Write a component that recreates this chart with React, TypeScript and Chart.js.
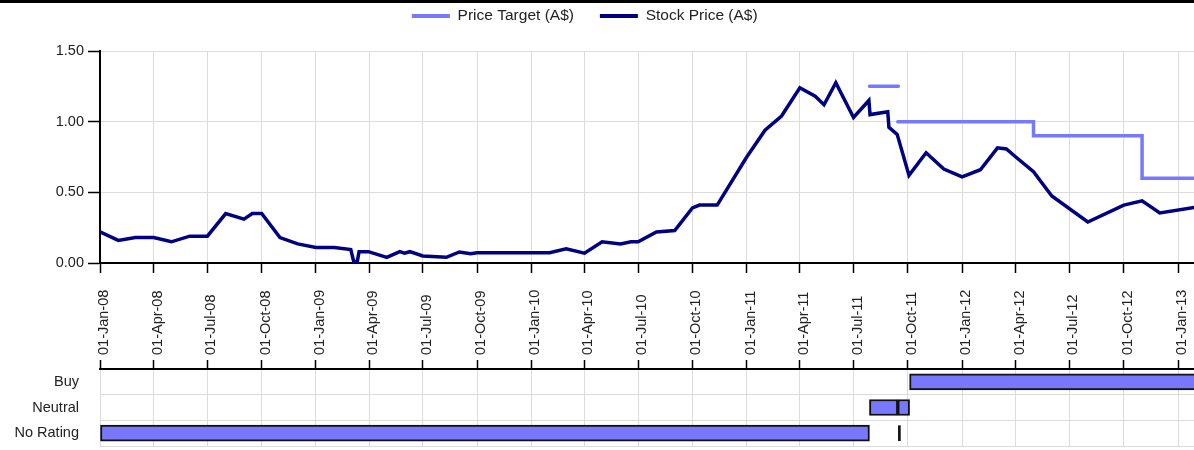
import React, { useEffect, useRef } from 'react';
import { Chart, registerables } from 'chart.js';

Chart.register(...registerables);

// ---------- data ----------
const axisStart = '2008-01-01';
const axisEnd = '2013-01-28';

const priceDates = [
  '2008-01-01', '2008-02-01', '2008-03-01', '2008-04-01', '2008-05-01', '2008-06-01', '2008-07-01',
  '2008-08-01', '2008-09-01', '2008-09-15', '2008-10-01', '2008-11-01', '2008-12-01',
  '2009-01-01', '2009-02-01', '2009-03-01', '2009-03-06', '2009-03-12', '2009-03-15', '2009-03-31',
  '2009-05-01', '2009-05-23', '2009-05-31', '2009-06-09', '2009-07-01', '2009-07-25', '2009-08-10',
  '2009-09-01', '2009-09-20', '2009-10-01', '2010-02-01', '2010-03-01', '2010-04-01', '2010-05-01',
  '2010-06-01', '2010-06-19', '2010-07-01', '2010-08-01', '2010-09-01', '2010-10-01', '2010-10-13',
  '2010-11-12', '2011-01-01', '2011-02-01', '2011-03-01', '2011-04-01', '2011-04-27', '2011-05-12',
  '2011-06-01', '2011-07-01', '2011-07-27', '2011-07-29', '2011-08-28', '2011-08-30', '2011-09-13',
  '2011-10-03', '2011-11-01', '2011-12-01', '2012-01-01', '2012-02-01', '2012-03-01', '2012-03-16',
  '2012-04-01', '2012-05-01', '2012-06-01', '2012-08-01', '2012-10-01', '2012-11-01', '2012-12-01',
  '2013-02-01',
];
const priceValues = [
  0.22, 0.16, 0.18, 0.18, 0.15, 0.19, 0.19,
  0.35, 0.31, 0.35, 0.35, 0.18, 0.135,
  0.11, 0.11, 0.095, 0.01, 0.01, 0.08, 0.08,
  0.04, 0.08, 0.07, 0.08, 0.05, 0.045, 0.04,
  0.078, 0.065, 0.073, 0.073, 0.1, 0.07, 0.15,
  0.135, 0.15, 0.15, 0.22, 0.23, 0.39, 0.41,
  0.41, 0.75, 0.94, 1.04, 1.24, 1.18, 1.12,
  1.276, 1.03, 1.15, 1.05, 1.07, 0.96, 0.91,
  0.62, 0.78, 0.665, 0.61, 0.66, 0.815, 0.807,
  0.75, 0.646, 0.474, 0.29, 0.41, 0.44, 0.354,
  0.395,
];

const targetDates = ['2011-07-28', '2011-09-15', '2011-09-15', '2011-09-14', '2012-05-01', '2012-11-01', '2013-02-01'];
const targetValues = [1.25, 1.25, null, 1.0, 0.9, 0.6, 0.6];

const tickDates = [
  '2008-01-01', '2008-04-01', '2008-07-01', '2008-10-01',
  '2009-01-01', '2009-04-01', '2009-07-01', '2009-10-01',
  '2010-01-01', '2010-04-01', '2010-07-01', '2010-10-01',
  '2011-01-01', '2011-04-01', '2011-07-01', '2011-10-01',
  '2012-01-01', '2012-04-01', '2012-07-01', '2012-10-01',
  '2013-01-01',
];
const tickLabels = [
  '01-Jan-08', '01-Apr-08', '01-Jul-08', '01-Oct-08',
  '01-Jan-09', '01-Apr-09', '01-Jul-09', '01-Oct-09',
  '01-Jan-10', '01-Apr-10', '01-Jul-10', '01-Oct-10',
  '01-Jan-11', '01-Apr-11', '01-Jul-11', '01-Oct-11',
  '01-Jan-12', '01-Apr-12', '01-Jul-12', '01-Oct-12',
  '01-Jan-13',
];
const yTicks = [0, 0.5, 1.0, 1.5];

const ratingCategories = ['Buy', 'Neutral', 'No Rating'];
const ratingNames = ['No Rating', 'Neutral', 'Neutral', 'Buy'];
const ratingStarts = ['2008-01-01', '2011-07-28', '2011-09-14', '2011-10-04'];
const ratingEnds = ['2011-07-28', '2011-09-14', '2011-10-04', '2013-02-01'];
const markerNames = ['No Rating'];
const markerDates = ['2011-09-15'];

// ---------- helpers ----------
const DAY = 86400000;
const day = (s: string) => (Date.parse(s) - Date.parse(axisStart)) / DAY;
const tickDays = tickDates.map(day);
const labelFor = (v: number) => {
  const i = tickDays.findIndex((t) => Math.abs(t - v) < 0.01);
  return i >= 0 ? tickLabels[i] : '';
};

const FONT = "'Liberation Sans', Arial, sans-serif";
const TEXT = '#222222';
const GRID = '#dcdcdc';
const TARGET = '#7878ff';
const STOCK = '#000080';
const TICK_FONT = 14.5;
const LEGEND_FONT = 15.5;

export default function App() {
  const mainRef = useRef<HTMLCanvasElement>(null);
  const ratingRef = useRef<HTMLCanvasElement>(null);

  useEffect(() => {
    const setTicks = (s: any) => {
      s.ticks = tickDays.map((v) => ({ value: v }));
    };

    const main = new Chart(mainRef.current as HTMLCanvasElement, {
      type: 'line',
      data: {
        datasets: [
          {
            label: 'Price Target (A$)',
            data: targetDates.map((d, i) => ({ x: day(d), y: targetValues[i] })) as any,
            borderColor: TARGET,
            backgroundColor: TARGET,
            borderWidth: 3.5,
            pointRadius: 0,
            stepped: 'before',
            spanGaps: false,
            borderCapStyle: 'round',
            fill: false,
          },
          {
            label: 'Stock Price (A$)',
            data: priceDates.map((d, i) => ({ x: day(d), y: priceValues[i] })),
            borderColor: STOCK,
            backgroundColor: STOCK,
            borderWidth: 3.5,
            pointRadius: 0,
            tension: 0,
            fill: false,
          },
        ],
      },
      options: {
        responsive: false,
        animation: false,
        layout: { padding: { top: -20.75, left: -24.5, right: 0, bottom: 0 } },
        plugins: {
          legend: {
            display: true,
            position: 'top',
            align: 'center',
            labels: {
              boxWidth: 38,
              boxHeight: 4,
              padding: 26,
              color: TEXT,
              font: { family: FONT, size: LEGEND_FONT },
              generateLabels: (chart: any) =>
                chart.data.datasets.map((ds: any, i: number) => ({
                  text: ds.label,
                  fillStyle: ds.borderColor,
                  strokeStyle: ds.borderColor,
                  lineWidth: 0,
                  hidden: false,
                  datasetIndex: i,
                  fontColor: TEXT,
                })),
            },
          },
          // empty spacer box between legend and plot
          title: {
            display: true,
            text: '',
            weight: 500,
            font: { size: 10, lineHeight: 1.2 },
            padding: { top: 0, bottom: 5.25 },
          },
          tooltip: { enabled: false },
        },
        scales: {
          x: {
            type: 'linear',
            position: 'bottom',
            min: day(axisStart),
            max: day(axisEnd),
            afterBuildTicks: setTicks,
            ticks: { display: false, autoSkip: false },
            grid: { color: GRID, tickColor: '#000', tickLength: 10, tickWidth: 1.5 },
            border: { color: '#000', width: 2 },
            afterFit: (s: any) => {
              s.height = 17;
              s.paddingLeft = 0;
              s.paddingRight = 0;
            },
          },
          y: {
            type: 'linear',
            min: 0,
            max: 1.5,
            afterBuildTicks: (s: any) => {
              s.ticks = yTicks.map((v) => ({ value: v }));
            },
            ticks: {
              callback: (v: any) => Number(v).toFixed(2),
              color: TEXT,
              font: { family: FONT, size: TICK_FONT },
              padding: 4,
            },
            grid: { color: GRID, tickColor: '#000', tickLength: 12, tickWidth: 1.5 },
            border: { color: '#000', width: 2 },
            afterFit: (s: any) => {
              s.width = 124.5;
            },
          },
        },
      } as any,
    });

    const rating = new Chart(ratingRef.current as HTMLCanvasElement, {
      type: 'bar',
      data: {
        labels: ratingCategories,
        datasets: [
          {
            label: 'Rating',
            data: ratingNames.map((n, i) => ({ y: n, x: [day(ratingStarts[i]), day(ratingEnds[i])] })) as any,
            backgroundColor: TARGET,
            borderColor: '#111',
            borderWidth: 2,
            borderSkipped: false,
            barThickness: 16,
            grouped: false,
          } as any,
          {
            label: 'Rating change',
            data: markerNames.map((n, i) => ({ y: n, x: [day(markerDates[i]), day(markerDates[i])] })) as any,
            backgroundColor: '#111',
            borderWidth: 0,
            barThickness: 15,
            minBarLength: 2,
            grouped: false,
          } as any,
        ],
      },
      options: {
        indexAxis: 'y',
        responsive: false,
        animation: false,
        layout: { padding: { top: 0, left: 0, right: 0, bottom: 4 } },
        plugins: { legend: { display: false }, tooltip: { enabled: false } },
        scales: {
          x: {
            type: 'linear',
            position: 'top',
            min: day(axisStart),
            max: day(axisEnd),
            afterBuildTicks: setTicks,
            ticks: {
              autoSkip: false,
              minRotation: 90,
              maxRotation: 90,
              padding: 5,
              labelOffset: TICK_FONT * 1.2 + 4,
              color: TEXT,
              font: { family: FONT, size: TICK_FONT },
              callback: (v: any) => labelFor(Number(v)),
            },
            grid: { color: GRID, tickColor: '#000', tickLength: 9, tickWidth: 1.5 },
            border: { color: '#000', width: 2 },
            afterFit: (s: any) => {
              s.height = 89;
              s.paddingLeft = 0;
              s.paddingRight = 0;
            },
          },
          y: {
            type: 'category',
            ticks: { color: TEXT, font: { family: FONT, size: TICK_FONT }, padding: 21 },
            grid: { color: GRID, drawTicks: false, offset: true },
            border: { display: false },
            afterFit: (s: any) => {
              s.width = 100;
              s.paddingTop = 0;
              s.paddingBottom = 0;
            },
          },
        },
      } as any,
    });

    return () => {
      main.destroy();
      rating.destroy();
    };
  }, []);

  return (
    <div
      style={{
        position: 'absolute',
        left: 0,
        top: 0,
        width: 1194,
        height: 450,
        overflow: 'hidden',
        background: '#fff',
      }}
    >
      <div style={{ position: 'absolute', left: 0, top: 0, width: 1194, height: 3, background: '#000' }} />
      <canvas ref={mainRef} width={1194} height={277} style={{ position: 'absolute', left: 0, top: 3 }} />
      <canvas ref={ratingRef} width={1194} height={170} style={{ position: 'absolute', left: 0, top: 280 }} />
    </div>
  );
}
